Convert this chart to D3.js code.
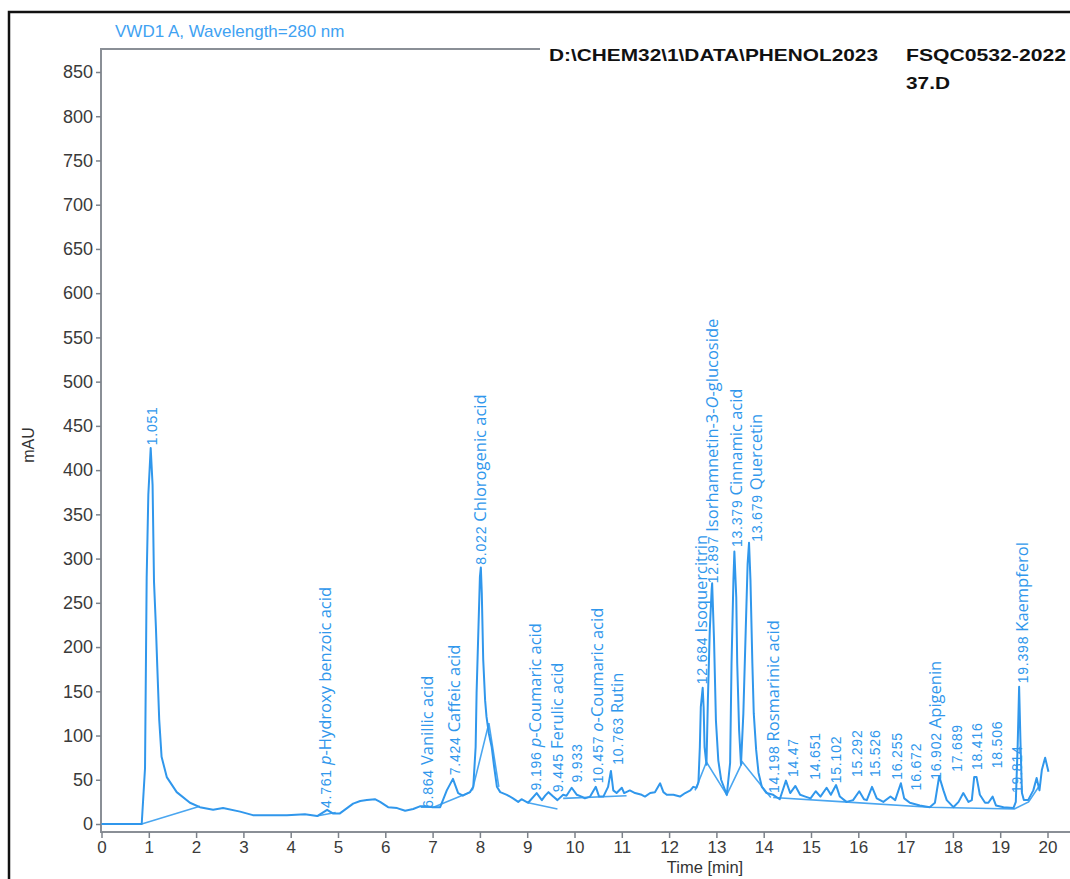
<!DOCTYPE html>
<html>
<head>
<meta charset="utf-8">
<script src="https://cdn.jsdelivr.net/npm/d3@7"></script>
<style>
  body { margin: 0; background: #fff; }
  svg { display: block; }
</style>
</head>
<body>
<div id="chart"></div>
<script>
const FRAME_WIDTH = 1070;
const FRAME_HEIGHT = 879;

// chromatogram trace (time in min, signal in mAU)
const timeMin = [0, 0.85, 0.92, 0.955, 0.99, 1.04, 1.08, 1.11, 1.15, 1.18, 1.22, 1.27, 1.38, 1.59, 1.87, 2.08, 2.36, 2.57, 2.93, 3.2, 3.41, 3.92, 4.3, 4.56, 4.77, 4.89, 5.04, 5.32, 5.47, 5.61, 5.78, 5.89, 6.06, 6.25, 6.42, 6.59, 6.73, 6.88, 7.0, 7.16, 7.3, 7.43, 7.54, 7.64, 7.79, 7.86, 7.91, 7.93, 7.97, 8.0, 8.02, 8.04, 8.07, 8.11, 8.14, 8.19, 8.25, 8.3, 8.36, 8.43, 8.57, 8.7, 8.81, 8.88, 9.02, 9.2, 9.31, 9.38, 9.45, 9.55, 9.64, 9.76, 9.83, 9.94, 10.05, 10.15, 10.22, 10.33, 10.45, 10.52, 10.61, 10.71, 10.77, 10.82, 10.89, 11.0, 11.05, 11.17, 11.28, 11.42, 11.49, 11.6, 11.7, 11.81, 11.88, 11.95, 12.09, 12.23, 12.34, 12.45, 12.51, 12.58, 12.62, 12.65, 12.67, 12.71, 12.73, 12.75, 12.79, 12.82, 12.86, 12.9, 12.91, 12.95, 12.99, 13.04, 13.1, 13.22, 13.29, 13.32, 13.36, 13.38, 13.42, 13.44, 13.48, 13.52, 13.57, 13.62, 13.66, 13.69, 13.72, 13.76, 13.79, 13.84, 13.89, 13.96, 14.06, 14.2, 14.34, 14.47, 14.56, 14.67, 14.77, 14.88, 14.99, 15.1, 15.2, 15.33, 15.42, 15.53, 15.61, 15.75, 15.89, 16.02, 16.12, 16.18, 16.29, 16.39, 16.53, 16.68, 16.78, 16.9, 16.97, 17.09, 17.3, 17.51, 17.62, 17.71, 17.8, 17.87, 18.01, 18.12, 18.22, 18.33, 18.4, 18.45, 18.5, 18.57, 18.68, 18.75, 18.84, 18.91, 19.07, 19.28, 19.33, 19.37, 19.4, 19.43, 19.46, 19.5, 19.59, 19.7, 19.77, 19.83, 19.88, 19.95, 20.02];
const signalMAU = [0, 0, 63, 279, 372, 425, 383, 274, 223, 177, 118, 76, 53, 36, 24, 19, 16, 18, 14, 10, 10, 10, 11, 9, 16, 12, 12, 23, 26, 27, 28, 25, 19, 18, 15, 17, 20, 20, 19, 19, 38, 51, 35, 32, 36, 42, 87, 148, 223, 279, 290, 261, 186, 140, 121, 102, 87, 65, 42, 36, 33, 29, 25, 28, 24, 35, 27, 32, 36, 31, 27, 33, 32, 41, 33, 31, 29, 31, 42, 31, 31, 42, 60, 38, 35, 41, 35, 38, 35, 33, 31, 35, 36, 46, 36, 33, 33, 31, 35, 38, 42, 41, 47, 87, 132, 154, 132, 87, 67, 140, 219, 265, 272, 208, 117, 72, 50, 33, 69, 182, 276, 308, 256, 182, 106, 67, 125, 219, 294, 318, 276, 182, 125, 84, 58, 42, 35, 33, 28, 49, 35, 43, 33, 31, 29, 37, 31, 41, 33, 44, 31, 25, 27, 37, 28, 27, 42, 29, 25, 31, 27, 46, 29, 24, 21, 19, 24, 54, 38, 27, 19, 25, 35, 25, 27, 53, 53, 33, 24, 24, 31, 21, 19, 18, 25, 90, 155, 90, 35, 27, 27, 38, 52, 38, 61, 75, 59];

// integration baselines, [time, mAU] pairs
const baselines = [
  [[0.85, 0], [2.08, 20]],
  [[4.55, 9], [4.95, 13]],
  [[6.75, 19], [7.02, 19], [7.79, 36]],
  [[7.84, 38], [8.19, 114], [8.4, 42]],
  [[9.02, 24], [9.64, 17]],
  [[9.76, 29], [11.1, 32]],
  [[12.55, 38], [12.79, 70], [13.22, 33], [13.55, 70], [14.15, 30]],
  [[14.2, 30], [15.7, 25], [17.5, 19], [19.3, 17], [19.6, 25], [19.85, 45]]
];

// peak labels: where the text starts, retention time and compound
const labelTime = [1.07, 4.75, 6.9, 7.47, 8.02, 9.19, 9.65, 10.05, 10.5, 10.92, 12.7, 12.93, 13.44, 13.86, 14.22, 14.62, 15.08, 15.53, 15.97, 16.35, 16.82, 17.22, 17.64, 18.09, 18.51, 18.93, 19.35, 19.48];
const labelMAU = [428, 18, 18, 55, 293, 38, 36, 47, 46, 67, 158, 272, 313, 319, 35, 53, 50, 46, 53, 53, 50, 38, 50, 59, 61, 63, 35, 159];
const labelRT = ["1.051", "4.761", "6.864", "7.424", "8.022", "9.196", "9.445", "9.933", "10.457", "10.763", "12.684", "12.897", "13.379", "13.679", "14.198", "14.47", "14.651", "15.102", "15.292", "15.526", "16.255", "16.672", "16.902", "17.689", "18.416", "18.506", "19.814", "19.398"];
const labelName = ["", "*p*-Hydroxy benzoic acid", "Vanillic acid", "Caffeic acid", "Chlorogenic acid", "*p*-Coumaric acid", "Ferulic acid", "", "*o*-Coumaric acid", "Rutin", "Isoquercitrin", "Isorhamnetin-3-*O*-glucoside", "Cinnamic acid", "Quercetin", "Rosmarinic acid", "", "", "", "", "", "", "", "Apigenin", "", "", "", "", "Kaempferol"];

const xTicks = d3.range(0, 21);
const yTicks = d3.range(0, 851, 50);

const BLUE = "#3097ec";

const FRAME = d3.select("#chart")
  .append("svg")
  .attr("width", FRAME_WIDTH)
  .attr("height", FRAME_HEIGHT);

const X_SCALE = d3.scaleLinear().domain([0, 20]).range([101.5, 1047.5]);
const Y_SCALE = d3.scaleLinear().domain([0, 850]).range([824, 72]);

// outer border of the screenshot
FRAME.append("path")
  .attr("d", "M9,879 L9,12 L1070,12")
  .attr("fill", "none")
  .attr("stroke", "#111")
  .attr("stroke-width", 2.5);

// plot frame
FRAME.append("path")
  .attr("d", "M540,49 L101,49 L101,832 L1070,832")
  .attr("fill", "none")
  .attr("stroke", "#8a8f96")
  .attr("stroke-width", 2);

// axes
const yAxis = FRAME.append("g")
  .attr("transform", "translate(101,0)")
  .call(d3.axisLeft(Y_SCALE).tickValues(yTicks).tickSize(5).tickPadding(3));
yAxis.select(".domain").remove();

const xAxis = FRAME.append("g")
  .attr("transform", "translate(0,832)")
  .call(d3.axisBottom(X_SCALE).tickValues(xTicks).tickSize(6).tickPadding(3));
xAxis.select(".domain").remove();

FRAME.selectAll(".tick line").attr("stroke", "#7c828a").attr("stroke-width", 1.5);
FRAME.selectAll(".tick text")
  .attr("fill", "#3a3a3a")
  .attr("font-family", "Liberation Sans, Arial, sans-serif");
yAxis.selectAll("text").attr("font-size", 18);
xAxis.selectAll("text").attr("font-size", 17);

// axis titles
FRAME.append("text")
  .attr("transform", "translate(34,445) rotate(-90)")
  .attr("text-anchor", "middle")
  .attr("font-family", "Liberation Sans, Arial, sans-serif")
  .attr("font-size", 16)
  .attr("fill", "#333")
  .text("mAU");

FRAME.append("text")
  .attr("x", 705)
  .attr("y", 873)
  .attr("text-anchor", "middle")
  .attr("font-family", "Liberation Sans, Arial, sans-serif")
  .attr("font-size", 16.5)
  .attr("fill", "#333")
  .text("Time [min]");

// header texts
FRAME.append("text")
  .attr("x", 115)
  .attr("y", 37)
  .attr("font-family", "Liberation Sans, Arial, sans-serif")
  .attr("font-size", 17)
  .attr("fill", "#3fa2f2")
  .text("VWD1 A, Wavelength=280 nm");

const head = FRAME.append("g")
  .attr("font-family", "Liberation Sans, Arial, sans-serif")
  .attr("font-size", 17)
  .attr("font-weight", "bold")
  .attr("fill", "#111");
head.append("text").attr("x", 549).attr("y", 61)
  .attr("textLength", 329).attr("lengthAdjust", "spacingAndGlyphs")
  .text("D:\\CHEM32\\1\\DATA\\PHENOL2023");
head.append("text").attr("x", 906).attr("y", 61)
  .attr("textLength", 160).attr("lengthAdjust", "spacingAndGlyphs")
  .text("FSQC0532-2022");
head.append("text").attr("x", 906).attr("y", 89)
  .attr("textLength", 44).attr("lengthAdjust", "spacingAndGlyphs")
  .text("37.D");

// baselines
const line = d3.line()
  .x((d) => X_SCALE(d[0]))
  .y((d) => Y_SCALE(d[1]));

FRAME.append("g")
  .selectAll("path")
  .data(baselines)
  .enter()
  .append("path")
  .attr("d", line)
  .attr("fill", "none")
  .attr("stroke", "#4aa6f0")
  .attr("stroke-width", 1.6);

// signal
const trace = timeMin.map((t, i) => [t, signalMAU[i]]);
FRAME.append("path")
  .datum(trace)
  .attr("d", line)
  .attr("fill", "none")
  .attr("stroke", BLUE)
  .attr("stroke-width", 2)
  .attr("stroke-linejoin", "round");

// peak labels, rotated to read bottom-up
const labels = FRAME.append("g")
  .selectAll("text")
  .data(labelRT)
  .enter()
  .append("text")
  .attr("transform", (d, i) => "translate(" + (X_SCALE(labelTime[i]) + 5) + "," + Y_SCALE(labelMAU[i]) + ") rotate(-90)")
  .attr("fill", BLUE);

labels.append("tspan")
  .attr("font-family", "Liberation Sans, Arial, sans-serif")
  .attr("font-size", 14)
  .attr("letter-spacing", 0.8)
  .text((d) => d);

labels.each(function (d, i) {
  if (!labelName[i]) return;
  const el = d3.select(this);
  // split on * to get italic bits
  labelName[i].split("*").forEach((part, k) => {
    if (!part) return;
    el.append("tspan")
      .attr("font-family", "Open Sans, Noto Sans, sans-serif")
      .attr("font-size", 16.5)
      .attr("font-style", k % 2 ? "italic" : "normal")
      .text(part);
  });
  el.select("tspan:nth-child(2)").attr("dx", 4);
});
</script>
</body>
</html>
